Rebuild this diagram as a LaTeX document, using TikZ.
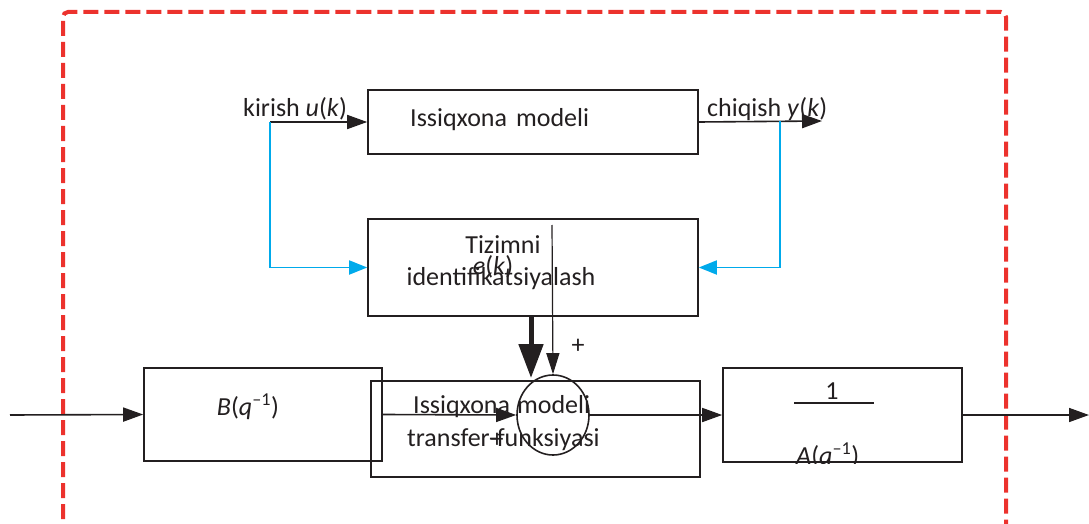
\documentclass[tikz,border=0pt]{standalone}
\usepackage{fontspec}
\setmainfont{Carlito}
\usetikzlibrary{arrows.meta,shapes.geometric}
\definecolor{dashred}{RGB}{236,50,45}
\definecolor{cyanline}{RGB}{0,170,235}
\definecolor{ink}{RGB}{35,31,32}
\tikzset{
  blk/.style={draw=ink, line width=1.6pt, inner sep=0pt},
  conn/.style={draw=ink, line width=1.6pt, -{Triangle[length=20pt,width=14pt]}},
  thinconn/.style={draw=ink, line width=1.2pt, -{Triangle[length=21pt,width=13pt]}},
  thickconn/.style={draw=ink, line width=5pt, -{Triangle[length=34pt,width=24pt]}},
  fb/.style={draw=cyanline, line width=1.8pt, -{Triangle[length=18pt,width=14pt]}},
  txt/.style={inner sep=0pt, text=ink, font=\fontsize{26}{30}\selectfont},
  lbl/.style={inner sep=0pt, text=ink, font=\fontsize{26}{30}\selectfont},
}
\begin{document}
\begin{tikzpicture}[x=1pt,y=-1pt]
\useasboundingbox (0,0) rectangle (1089,524);
\begin{scope}
\clip (0,0) rectangle (1089,524);
% red dashed frame
\draw[dashred, line width=4pt, dash pattern=on 15pt off 6pt, rounded corners=5pt]
  (63,540) -- (63,12) -- (1006,12) -- (1006,540);

% boxes
\node[blk, minimum width=330pt, minimum height=64pt] (M) at (533,122) {};
\node[blk, minimum width=330pt, minimum height=97pt] (I) at (533,267.5) {};
\node[blk, minimum width=238pt, minimum height=93pt] (B) at (263,414.5) {};
\node[blk, minimum width=329pt, minimum height=96pt] (T) at (535.5,429) {};
\node[blk, minimum width=239pt, minimum height=94pt] (A) at (842.5,415) {};
\node[draw=ink, line width=1.6pt, ellipse, minimum width=72pt, minimum height=80pt, inner sep=0pt] (S) at (553,415) {};

% texts
\node[txt, anchor=base west] (Mt) at (410,127) {Issiqxona\hspace{9pt}modeli};
\node[lbl, anchor=base west] (kin) at (243,117) {kirish \textit{u}(\textit{k})};
\node[lbl, anchor=base west] (kout) at (707,117) {chiqish \textit{y}(\textit{k})};
\node[txt, anchor=base] (It1) at (503,253) {Tizimni};
\node[txt, anchor=base] (It2) at (501,285) {identifikatsiyalash};
\node[txt, anchor=base] (ek) at (493,274) {\textit{e}(\textit{k})};
\node[txt, anchor=base west] (Tt1) at (413,413) {Issiqxona\hspace{7pt}modeli};
\node[txt, anchor=base west] (Tt2) at (407,446) {transfer-funksiyasi};
\node[txt, anchor=base] (Bt) at (248,415) {\textit{B}(\textit{q}\textsuperscript{--1})};
\node[txt, anchor=base] (At1) at (832,399) {1};
\node[txt] (plus1) at (578,346) {+};
\node[txt] (plus2) at (497,440) {+};
\begin{scope}
\clip (A.north west) rectangle ([yshift=-0.8pt]A.south east);
\node[txt, anchor=base west] (At2) at (796,464) {\textit{A}(\textit{q}\textsuperscript{--1})};
\end{scope}
\draw[ink, line width=1.6pt] (794,403) -- (874,403);

% coordinates
\coordinate (uin) at (270,122);
\coordinate (yout) at (822,121);
\coordinate (ybr) at (780,121);
\coordinate (xin) at (10,415);
\coordinate (xout) at (1089,415);
\coordinate (ethin) at (552,225);
\coordinate (thtop) at (531,316);
\coordinate (thbot) at (531,378);

% connectors
\draw[conn] (uin) -- (M.west);
\draw[conn] (M.east) -- (yout);
\draw[fb] (uin) -- (uin |- I.west) -- (I.west);
\draw[fb] (ybr) -- (ybr |- I.east) -- (I.east);
\draw[thickconn] (thtop) -- (thbot);
\draw[thinconn] (ethin) -- (S.north);
\draw[conn] (xin) -- (B.west);
\draw[conn] (B.east) -- (S.west);
\draw[conn] (S.east) -- (A.west);
\draw[conn] (A.east) -- (xout);
\end{scope}
\end{tikzpicture}
\end{document}
